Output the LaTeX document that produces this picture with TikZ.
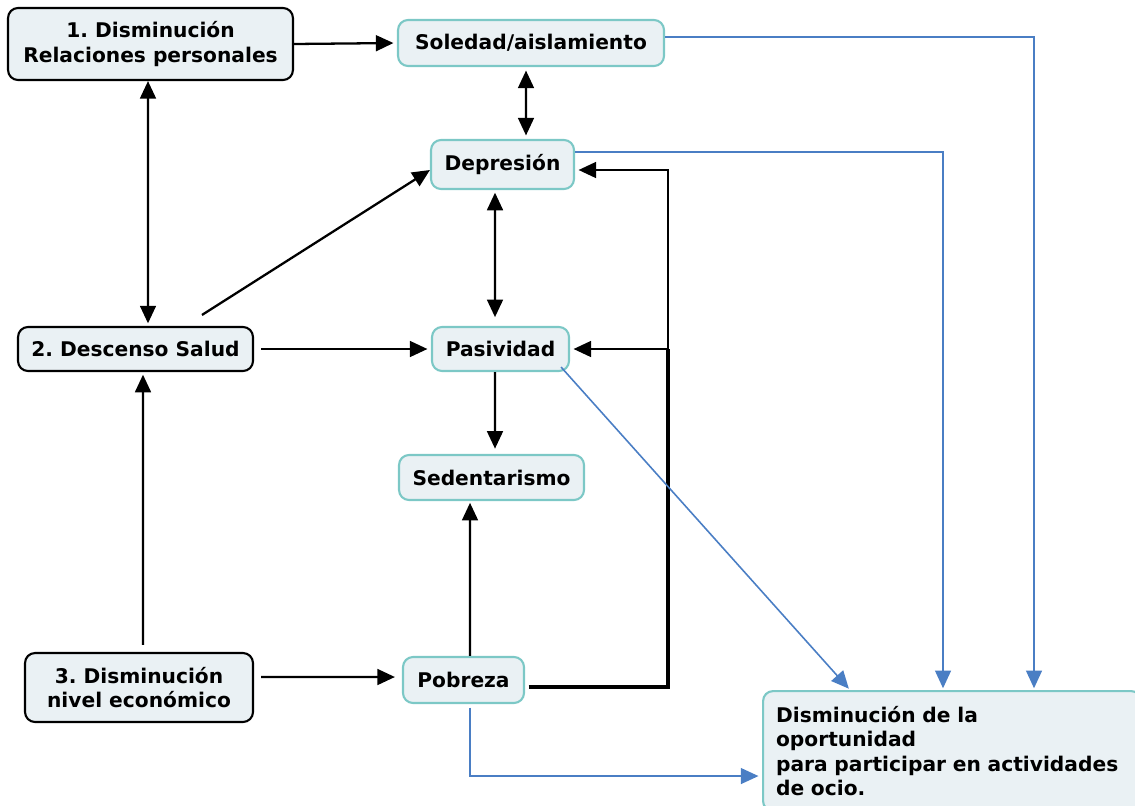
\documentclass[tikz,border=0pt]{standalone}
\usepackage{fontspec}
\setmainfont{DejaVu Sans}
\frenchspacing
\usetikzlibrary{arrows.meta}
\definecolor{relleno}{HTML}{EAF1F4}
\definecolor{turquesa}{HTML}{7CC8C6}
\definecolor{azul}{HTML}{4A7EC4}

\begin{document}
\begin{tikzpicture}[x=0.02cm, y=-0.02cm,
		caja/.style={draw=black, line width=1.2pt, rounded corners=0.2cm, fill=relleno, align=center, inner sep=1pt, font=\fontsize{11.5}{14}\selectfont\bfseries},
		cajaazul/.style={caja, draw=turquesa},
		arr/.style={line width=1.3pt, -{Triangle[length=10pt,width=9pt]}},
		arrdoble/.style={arr, {Triangle[length=10pt,width=9pt]}-{Triangle[length=10pt,width=9pt]}},
		blu/.style={draw=azul, line width=0.9pt, -{Triangle[length=10pt,width=9pt]}}]
		\useasboundingbox (0,0) rectangle (1135,805);
		\node[caja, minimum width=5.7cm, minimum height=1.44cm] (relaciones) at (150.5,44) {1. Disminución\\Relaciones personales};
		\node[cajaazul, minimum width=5.32cm, minimum height=0.92cm] (soledad) at (531,43) {Soledad/aislamiento};
		\node[cajaazul, minimum width=2.86cm, minimum height=0.98cm] (depresion) at (502.5,164.5) {Depresión};
		\node[caja, minimum width=4.7cm, minimum height=0.88cm] (salud) at (135.5,349) {2. Descenso Salud};
		\node[cajaazul, minimum width=2.74cm, minimum height=0.88cm] (pasividad) at (500.5,349) {Pasividad};
		\node[cajaazul, minimum width=3.7cm, minimum height=0.9cm] (sedentarismo) at (491.5,477.5) {Sedentarismo};
		\node[caja, minimum width=4.56cm, minimum height=1.38cm] (economico) at (139,687.5) {3. Disminución\\nivel económico};
		\node[cajaazul, minimum width=2.42cm, minimum height=0.92cm] (pobreza) at (463.5,680) {Pobreza};
		\node[cajaazul, anchor=north west, text width=7.04cm, inner xsep=0.26cm, minimum height=2.4cm, align=left] (ocio) at (762,690) {Disminución de la\\oportunidad\\para participar en actividades\\de ocio.};
		\coordinate (bus) at (668,349);
		% conexiones negras
		\draw[arr, shorten >=2pt] (relaciones.east) -- (soledad.west);
		\draw[arrdoble, shorten <=2pt, shorten >=2pt] ([xshift=-0.1cm]soledad.south) -- ([xshift=0.47cm]depresion.north);
		\draw[arrdoble, shorten >=1.5pt] ([xshift=-0.05cm]relaciones.south) -- ([xshift=0.25cm]salud.north);
		\draw[arr] ([xshift=1.33cm,yshift=0.22cm]salud.north) -- ([yshift=-0.11cm]depresion.west);
		\draw[arr, shorten <=4pt, shorten >=2pt] (salud.east) -- (pasividad.west);
		\draw[arrdoble, shorten <=1.5pt, shorten >=5pt] ([xshift=-0.15cm]depresion.south) -- ([xshift=-0.11cm]pasividad.north);
		\draw[arr, shorten >=3pt] ([xshift=-0.11cm]pasividad.south) -- ([xshift=0.07cm]sedentarismo.north);
		\draw[arr, shorten <=4pt, shorten >=1.5pt] ([xshift=0.08cm]economico.north) -- ([xshift=0.15cm]salud.south);
		\draw[arr, shorten <=4pt, shorten >=4pt] ([yshift=0.21cm]economico.east) -- ([yshift=0.06cm]pobreza.west);
		\draw[arr, shorten >=1pt] ([xshift=0.13cm]pobreza.north) -- ([xshift=-0.43cm]sedentarismo.south);
		\draw[line width=1.8pt] ([xshift=2pt,yshift=-0.14cm]pobreza.east) -| (bus);
		\draw[arr, shorten >=2pt] (bus) |- ([yshift=-0.11cm]depresion.east);
		\draw[arr, shorten >=2pt] (bus) -- (pasividad.east);
		% conexiones azules
		\draw[blu, shorten >=1pt] ([yshift=0.12cm]soledad.east) -| ([xshift=1.64cm]ocio.north);
		\draw[blu, shorten >=1pt] ([yshift=0.25cm]depresion.east) -| ([xshift=-0.18cm]ocio.north);
		\draw[blu, shorten >=1pt] ([xshift=-0.18cm,yshift=0.1cm]pasividad.south east) -- ([xshift=-2.04cm]ocio.north);
		\draw[blu, shorten <=2pt, shorten >=2pt] ([xshift=0.13cm]pobreza.south) |- ([yshift=-0.5cm]ocio.west);
\end{tikzpicture}
\end{document}
